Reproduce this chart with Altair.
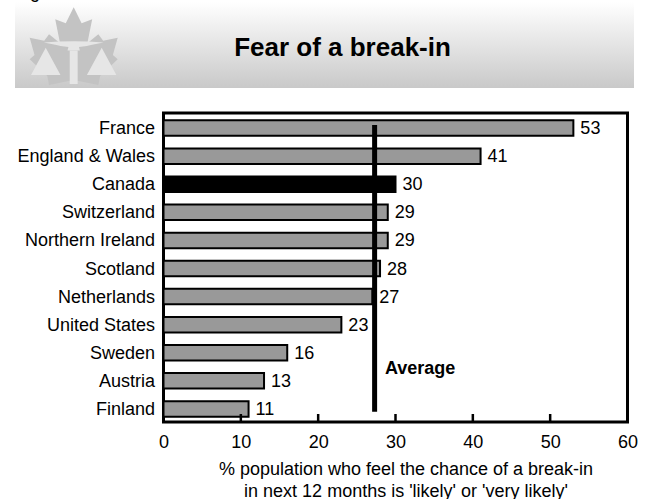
import altair as alt
import pandas as pd

FONT = "Liberation Sans"

countries = ["France", "England & Wales", "Canada", "Switzerland", "Northern Ireland",
             "Scotland", "Netherlands", "United States", "Sweden", "Austria", "Finland"]
shares = [53, 41, 30, 29, 29, 28, 27, 23, 16, 13, 11]
average = [27.3]
tick_values = [10, 20, 30, 40, 50]
x_title = ["% population who feel the chance of a break-in",
           "in next 12 months is 'likely' or 'very likely'"]

# Emblem outlines in a [-1, 1] box
leaf_path = ("M0,-0.88 L0.18,-0.515 L0.42,-0.606 L0.31,-0.06 L0.56,-0.265 L0.67,-0.12 L1,-0.19 "
             "L0.89,0.205 L1,0.3 L0.6,0.68 L0.56,0.886 L0,0.77 L-0.56,0.886 L-0.6,0.68 "
             "L-1,0.3 L-0.89,0.205 L-1,-0.19 L-0.67,-0.12 L-0.56,-0.265 L-0.31,-0.06 "
             "L-0.42,-0.606 L-0.18,-0.515 Z")
scales_path = ("M-0.636,0.038 L-0.97,0.66 L-0.3,0.66 Z M0.636,0.038 L0.3,0.66 L0.97,0.66 Z "
               "M-0.09,0.106 L0.09,0.106 L0.09,0.864 L-0.09,0.864 Z "
               "M-0.68,-0.08 Q0,-0.14 0.68,-0.08 Q0.35,-0.02 0.3,0 L0.12,0.02 L0.14,0.1 "
               "L-0.14,0.1 L-0.12,0.02 L-0.3,0 Q-0.35,-0.02 -0.68,-0.08 Z")

df = pd.DataFrame({"country": countries, "share": shares})
df["highlight"] = df["country"] == "Canada"

x_scale = alt.Scale(domain=[0, 60], nice=False)
y_scale = alt.Scale(domain=countries, type="band", round=False, paddingInner=0,
                    paddingOuter=0, range=[1, 310])

# Header band with a vertical fade
band_fill = alt.Gradient(
    gradient="linear", x1=0, x2=0, y1=0, y2=1,
    stops=[alt.GradientStop(color="#ffffff", offset=0),
           alt.GradientStop(color="#c9c9c9", offset=1)],
)
band = alt.Chart().mark_rect(fill=band_fill).encode(
    x=alt.value(15 - 163.5), x2=alt.value(634 - 163.5),
    y=alt.value(2 - 113), y2=alt.value(88 - 113),
)
leaf = alt.Chart().mark_point(shape=leaf_path, filled=True, fill="#c3c3c3", stroke=None,
                              opacity=1, size=88 ** 2).encode(
    x=alt.value(73.7 - 163.5), y=alt.value(46 - 113))
emblem = alt.Chart().mark_point(shape=scales_path, filled=True, fill="#e6e6e6", stroke=None,
                                opacity=1, size=88 ** 2).encode(
    x=alt.value(73.7 - 163.5), y=alt.value(46 - 113))
heading = alt.Chart().mark_text(text="Fear of a break-in", font=FONT, fontSize=26,
                                fontWeight="bold", color="black", align="center",
                                baseline="middle").encode(
    x=alt.value(342.5 - 163.5), y=alt.value(48 - 113))
fig_label = alt.Chart().mark_text(text="Figure", font=FONT, fontSize=18, color="black",
                                  align="left", baseline="alphabetic").encode(
    x=alt.value(15 - 163.5), y=alt.value(-2 - 113))

# Bars, Canada picked out in solid black
bars = alt.Chart(df).mark_bar(size=15.5, stroke="black", strokeWidth=2).encode(
    x=alt.X("share:Q", scale=x_scale, axis=alt.Axis(
        values=[0, 10, 20, 30, 40, 50, 60], tickSize=0, domain=False, grid=False,
        labelFont=FONT, labelFontSize=18, labelColor="black", labelPadding=11,
        labelFlush=False, title=x_title, titleFont=FONT, titleFontSize=18,
        titleFontWeight="normal", titleColor="black", titleLineHeight=22.5,
        titleX=242, titleY=47, titleAlign="center", titleBaseline="middle")),
    y=alt.Y("country:N", scale=y_scale, sort=countries, axis=alt.Axis(
        title=None, tickSize=0, domain=False, grid=False, labelFont=FONT,
        labelFontSize=18, labelColor="black", labelPadding=9, labelLimit=200,
        labelOffset=1)),
    fill=alt.condition("datum.highlight", alt.value("black"), alt.value("#999999")),
)
values = alt.Chart(df).mark_text(align="left", baseline="middle", dx=7, dy=1, font=FONT,
                                 fontSize=18, color="black").encode(
    x=alt.X("share:Q", scale=x_scale),
    y=alt.Y("country:N", scale=y_scale, sort=countries),
    text="share:Q",
)

# Average line and its caption
avg_line = alt.Chart(pd.DataFrame({"avg": average})).mark_rule(
    color="black", strokeWidth=5).encode(
    x=alt.X("avg:Q", scale=x_scale), y=alt.value(12), y2=alt.value(298.7))
avg_text = alt.Chart().mark_text(text="Average", font=FONT, fontSize=18, fontWeight="bold",
                                 color="black", align="left", baseline="middle").encode(
    x=alt.value(221.5), y=alt.value(256))

# Inward tick marks along the bottom edge
ticks = alt.Chart(pd.DataFrame({"t": tick_values})).mark_rule(
    color="black", strokeWidth=2.5).encode(
    x=alt.X("t:Q", scale=x_scale), y=alt.value(309), y2=alt.value(301))

chart = alt.layer(band, leaf, emblem, heading, fig_label, bars, values, avg_line, avg_text,
                  ticks).properties(
    width=464, height=309,
    autosize=alt.AutoSizeParams(type="none"),
    padding={"left": 163.5, "top": 113, "right": 18.5, "bottom": 77},
).configure_view(stroke="black", strokeWidth=3)

chart.save("out.html", embed_options={"renderer": "svg", "actions": False})
